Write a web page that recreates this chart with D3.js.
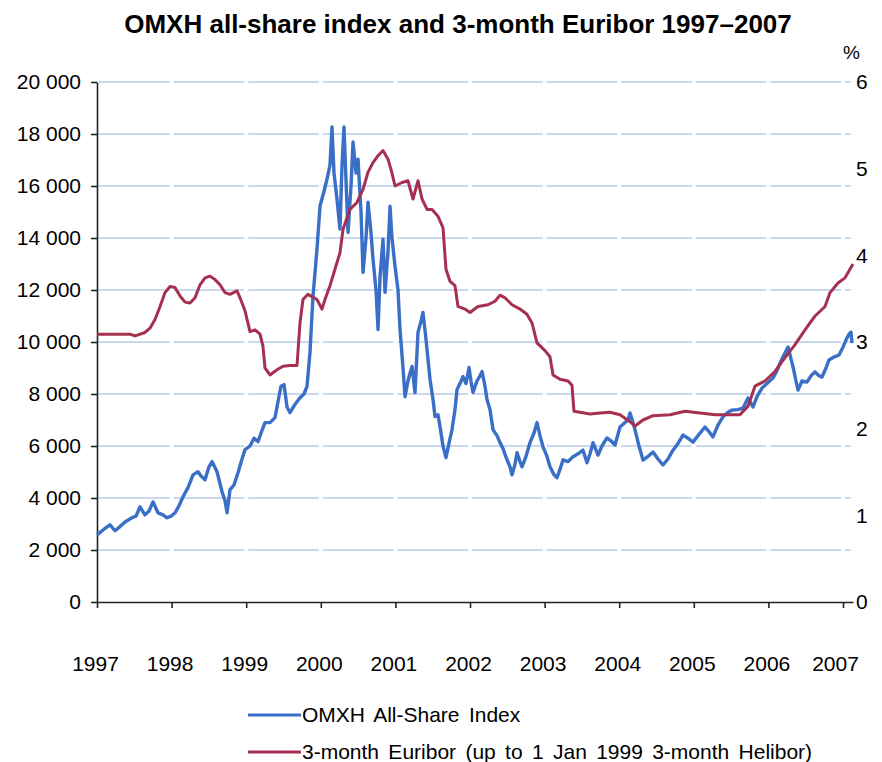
<!DOCTYPE html>
<html>
<head>
<meta charset="utf-8">
<title>OMXH and Euribor</title>
<script src="https://d3js.org/d3.v7.min.js"></script>
<style>
body { margin: 0; background: #fff; }
svg text { font-family: "Liberation Sans", Arial, sans-serif; fill: #000; }
.title { font-weight: bold; font-size: 26px; }
.axis text { font-size: 21px; }
.axis path, .axis line { stroke: #222; stroke-width: 1.6px; }
.grid line { stroke: #c9d7ef; stroke-width: 2px; }
.legend text { font-size: 21px; word-spacing: 3.5px; }
</style>
</head>
<body>
<svg id="chart" width="882" height="762"></svg>
<script>

// x-axis categories (years) and tick values
var years = [1997, 1998, 1999, 2000, 2001, 2002, 2003, 2004, 2005, 2006, 2007];
var leftTicks = [0, 2000, 4000, 6000, 8000, 10000, 12000, 14000, 16000, 18000, 20000];
var rightTicks = [0, 1, 2, 3, 4, 5, 6];

// OMXH all-share index, time given as decimal years
var omxhTime = [1997.000, 1997.094, 1997.174, 1997.241, 1997.308, 1997.375, 1997.469, 1997.523, 1997.576, 1997.643,
  1997.697, 1997.751, 1997.818, 1997.885, 1997.938, 1997.992, 1998.046, 1998.099, 1998.153, 1998.220,
  1998.287, 1998.354, 1998.394, 1998.448, 1998.501, 1998.542, 1998.609, 1998.676, 1998.716, 1998.743,
  1998.783, 1998.836, 1998.890, 1998.944, 1998.984, 1999.051, 1999.105, 1999.158, 1999.212, 1999.252,
  1999.319, 1999.386, 1999.426, 1999.466, 1999.507, 1999.547, 1999.587, 1999.654, 1999.721, 1999.775,
  1999.815, 1999.855, 1999.895, 1999.949, 1999.989, 2000.043, 2000.083, 2000.123, 2000.150, 2000.177,
  2000.217, 2000.257, 2000.284, 2000.311, 2000.338, 2000.365, 2000.405, 2000.432, 2000.472, 2000.499,
  2000.539, 2000.566, 2000.606, 2000.633, 2000.673, 2000.700, 2000.740, 2000.767, 2000.794, 2000.834,
  2000.861, 2000.901, 2000.928, 2000.954, 2000.995, 2001.035, 2001.062, 2001.102, 2001.129, 2001.169,
  2001.196, 2001.223, 2001.263, 2001.303, 2001.343, 2001.370, 2001.410, 2001.464, 2001.504, 2001.531,
  2001.571, 2001.598, 2001.638, 2001.678, 2001.718, 2001.759, 2001.799, 2001.826, 2001.866, 2001.906,
  2001.946, 2001.987, 2002.013, 2002.040, 2002.094, 2002.134, 2002.161, 2002.201, 2002.228, 2002.268,
  2002.308, 2002.362, 2002.402, 2002.442, 2002.496, 2002.536, 2002.563, 2002.603, 2002.630, 2002.670,
  2002.697, 2002.751, 2002.804, 2002.858, 2002.898, 2002.938, 2002.979, 2003.032, 2003.072, 2003.126,
  2003.166, 2003.206, 2003.247, 2003.314, 2003.381, 2003.448, 2003.515, 2003.568, 2003.609, 2003.649,
  2003.716, 2003.769, 2003.836, 2003.890, 2003.944, 2004.011, 2004.078, 2004.118, 2004.145, 2004.185,
  2004.212, 2004.265, 2004.319, 2004.386, 2004.453, 2004.520, 2004.587, 2004.654, 2004.721, 2004.788,
  2004.855, 2004.922, 2004.989, 2005.056, 2005.150, 2005.204, 2005.257, 2005.324, 2005.391, 2005.458,
  2005.512, 2005.592, 2005.660, 2005.727, 2005.794, 2005.847, 2005.914, 2005.981, 2006.062, 2006.115,
  2006.155, 2006.209, 2006.263, 2006.290, 2006.330, 2006.370, 2006.397, 2006.450, 2006.517, 2006.571,
  2006.625, 2006.678, 2006.718, 2006.772, 2006.812, 2006.879, 2006.946, 2007.000, 2007.040, 2007.080,
  2007.107, 2007.121];
var omxhValues = [2580, 2800, 2970, 2740, 2900, 3080, 3240, 3300, 3660, 3350,
  3500, 3850, 3430, 3350, 3240, 3300, 3430, 3700, 4050, 4400,
  4890, 5010, 4850, 4700, 5200, 5400, 5010, 4240, 3900, 3430,
  4320, 4500, 4970, 5500, 5860, 6000, 6300, 6170, 6600, 6900,
  6900, 7090, 7700, 8300, 8360, 7500, 7280, 7600, 7860, 8000,
  8290, 9600, 11750, 13570, 15220, 15800, 16260, 16800, 18270, 16500,
  15490, 14340, 16800, 18270, 16200, 14220, 16000, 17690, 16500, 17030,
  15000, 12680, 14000, 15380, 14200, 13180, 12000, 10480, 12500, 13950,
  11910, 13500, 15220, 14000, 12910, 12000, 10480, 9000, 7900, 8500,
  8800, 9060, 8060, 10370, 10800, 11140, 10100, 8560, 7800, 7130,
  7200, 6740, 6000, 5550, 6100, 6630, 7400, 8170, 8400, 8670,
  8400, 9020, 8500, 8060, 8500, 8700, 8860, 8300, 7790, 7400,
  6630, 6400, 6130, 5900, 5470, 5200, 4890, 5300, 5740, 5400,
  5200, 5600, 6130, 6500, 6900, 6400, 5970, 5600, 5200, 4900,
  4780, 5100, 5470, 5400, 5590, 5700, 5840, 5360, 5700, 6130,
  5650, 6000, 6310, 6200, 6040, 6730, 6900, 7000, 7270, 6900,
  6620, 6000, 5460, 5600, 5770, 5500, 5270, 5500, 5840, 6100,
  6420, 6300, 6150, 6400, 6730, 6550, 6350, 6800, 7120, 7300,
  7380, 7400, 7460, 7850, 7500, 7900, 8230, 8400, 8620, 8900,
  9190, 9500, 9810, 9500, 9040, 8500, 8150, 8500, 8460, 8700,
  8850, 8700, 8650, 9000, 9310, 9420, 9500, 9800, 10080, 10300,
  10380, 9960];

// 3-month Euribor (Helibor before 1999), %
var euriborTime = [1997.000, 1997.442, 1997.509, 1997.643, 1997.710, 1997.777, 1997.845, 1997.912, 1997.979, 1998.046,
  1998.113, 1998.180, 1998.247, 1998.314, 1998.381, 1998.448, 1998.515, 1998.582, 1998.649, 1998.716,
  1998.783, 1998.877, 1998.917, 1998.984, 1999.051, 1999.118, 1999.185, 1999.225, 1999.252, 1999.319,
  1999.413, 1999.493, 1999.587, 1999.681, 1999.721, 1999.761, 1999.828, 1999.949, 2000.016, 2000.056,
  2000.123, 2000.190, 2000.257, 2000.298, 2000.391, 2000.485, 2000.566, 2000.633, 2000.700, 2000.767,
  2000.834, 2000.901, 2000.954, 2000.995, 2001.088, 2001.169, 2001.236, 2001.303, 2001.357, 2001.424,
  2001.491, 2001.571, 2001.638, 2001.678, 2001.732, 2001.799, 2001.839, 2001.933, 2002.000, 2002.107,
  2002.241, 2002.335, 2002.402, 2002.469, 2002.563, 2002.670, 2002.764, 2002.831, 2002.898, 2003.005,
  2003.072, 2003.113, 2003.206, 2003.314, 2003.367, 2003.394, 2003.609, 2003.743, 2003.877, 2004.011,
  2004.145, 2004.212, 2004.319, 2004.453, 2004.681, 2004.882, 2005.083, 2005.284, 2005.619, 2005.727,
  2005.820, 2005.954, 2006.088, 2006.223, 2006.357, 2006.491, 2006.625, 2006.759, 2006.826, 2006.933,
  2007.027, 2007.134];
var euriborValues = [3.09, 3.09, 3.07, 3.11, 3.16, 3.26, 3.41, 3.57, 3.64, 3.63,
  3.53, 3.46, 3.45, 3.51, 3.66, 3.74, 3.76, 3.72, 3.66, 3.57,
  3.55, 3.59, 3.51, 3.36, 3.12, 3.14, 3.09, 2.95, 2.70, 2.62,
  2.68, 2.72, 2.73, 2.73, 3.22, 3.49, 3.55, 3.49, 3.38, 3.49,
  3.65, 3.84, 4.03, 4.30, 4.53, 4.61, 4.76, 4.96, 5.07, 5.15,
  5.21, 5.11, 4.95, 4.80, 4.84, 4.86, 4.65, 4.86, 4.65, 4.53,
  4.53, 4.45, 4.32, 3.84, 3.70, 3.65, 3.41, 3.38, 3.34, 3.41,
  3.43, 3.47, 3.54, 3.51, 3.43, 3.38, 3.32, 3.22, 2.99, 2.90,
  2.83, 2.62, 2.57, 2.55, 2.50, 2.20, 2.17, 2.18, 2.19, 2.16,
  2.08, 2.03, 2.10, 2.15, 2.16, 2.20, 2.18, 2.16, 2.16, 2.26,
  2.49, 2.55, 2.66, 2.82, 2.97, 3.14, 3.30, 3.41, 3.57, 3.68,
  3.74, 3.90];

var blue = "#3a6fc8",
    red = "#a5304f";

var svg = d3.select("#chart");

var x = d3.scaleLinear().domain([1997, 2007.134]).range([97, 853]);
var yLeft = d3.scaleLinear().domain([0, 20000]).range([602, 82]);
var yRight = d3.scaleLinear().domain([0, 6]).range([602, 82]);

var locale = d3.formatLocale({decimal: ".", thousands: " ", grouping: [3], currency: ["", ""]});
var fmt = locale.format(",");

// gridlines, broken at every year tick like the original
var grid = svg.append("g").attr("class", "grid");
leftTicks.slice(1).forEach(function(v) {
  years.forEach(function(yr, i) {
    var x0 = x(yr) + 2;
    var x1 = i < years.length - 1 ? x(years[i + 1]) - 2 : x.range()[1] - 2;
    grid.append("line")
      .attr("x1", x0).attr("x2", x1)
      .attr("y1", yLeft(v)).attr("y2", yLeft(v));
  });
});

// axes
svg.append("g")
    .attr("class", "axis")
    .attr("transform", "translate(" + x.range()[0] + ",0)")
    .call(d3.axisLeft(yLeft).tickValues(leftTicks).tickSize(6).tickSizeOuter(0).tickPadding(10).tickFormat(fmt));

svg.append("g")
    .attr("class", "axis right")
    .attr("transform", "translate(" + x.range()[1] + ",0)")
    .call(d3.axisRight(yRight).tickValues(rightTicks).tickSize(0).tickPadding(3).tickFormat(d3.format("d")))
    .call(function(g) { g.select(".domain").remove(); });

var xAxis = svg.append("g")
    .attr("class", "axis")
    .attr("transform", "translate(0," + yLeft(0) + ")")
    .call(d3.axisBottom(x).tickValues(years).tickSize(6).tickSizeOuter(0).tickPadding(48).tickFormat(d3.format("d")));
xAxis.selectAll(".tick text").attr("dx", function(d) { return d == 2007 ? "-8" : "-2"; });

// lines
var omxh = omxhTime.map(function(t, i) { return [t, omxhValues[i]]; });
var euribor = euriborTime.map(function(t, i) { return [t, euriborValues[i]]; });

svg.append("path")
    .datum(omxh)
    .attr("fill", "none")
    .attr("stroke", blue)
    .attr("stroke-width", 3.4)
    .attr("stroke-linejoin", "round")
    .attr("d", d3.line().x(function(d) { return x(d[0]); }).y(function(d) { return yLeft(d[1]); }));

svg.append("path")
    .datum(euribor)
    .attr("fill", "none")
    .attr("stroke", red)
    .attr("stroke-width", 3)
    .attr("stroke-linejoin", "round")
    .attr("d", d3.line().x(function(d) { return x(d[0]); }).y(function(d) { return yRight(d[1]); }));

// title and unit
svg.append("text")
    .attr("class", "title")
    .attr("x", 458).attr("y", 33)
    .attr("text-anchor", "middle")
    .text("OMXH all-share index and 3-month Euribor 1997\u20132007");

svg.append("text")
    .attr("x", 843).attr("y", 59)
    .attr("font-size", "19px")
    .text("%");

// legend
var legendItems = [
  {label: "OMXH All-Share Index", color: blue},
  {label: "3-month Euribor (up to 1 Jan 1999 3-month Helibor)", color: red}
];
var legend = svg.append("g").attr("class", "legend");
legendItems.forEach(function(item, i) {
  var ly = 715 + i * 37;
  legend.append("line")
    .attr("x1", 248).attr("x2", 301)
    .attr("y1", ly).attr("y2", ly)
    .attr("stroke", item.color).attr("stroke-width", 3);
  legend.append("text")
    .attr("x", 302).attr("y", ly)
    .attr("dy", "0.35em")
    .text(item.label);
});

</script>
</body>
</html>
